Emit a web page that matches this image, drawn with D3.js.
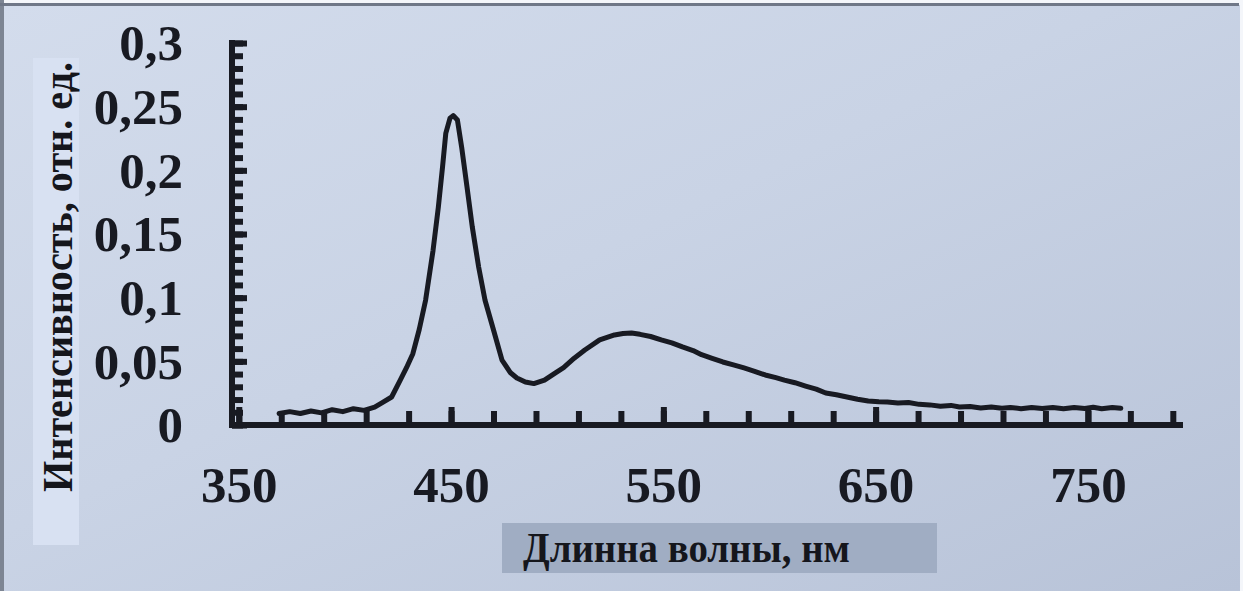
<!DOCTYPE html>
<html>
<head>
<meta charset="utf-8">
<script src="https://cdn.jsdelivr.net/npm/d3@7"></script>
<style>
body { margin: 0; padding: 0; background: #fff; }
#canvas { width: 1243px; height: 591px; overflow: hidden; }
.tick_label, .axis_title { font-family: "Liberation Serif", "Times New Roman", serif; font-weight: bold; fill: #15161c; }
</style>
</head>
<body>
<div id="canvas"></div>
<script>
// ----------------------------------------------------------
// DATA -----------------------------------------------------
// ----------------------------------------------------------

// wavelength, nm
var wavelength = [
369, 374, 379, 384, 389, 394, 399, 404, 409, 414,
418, 422, 426, 429, 432, 435, 438, 441.5, 444, 446,
447.5, 449.5, 451, 453, 455, 457.5, 460, 463, 466, 470,
474, 478, 481, 485, 489, 494, 499, 503, 508, 513,
520, 527, 531, 535, 539, 544, 549, 554, 559, 564,
568, 573, 578, 583, 588, 593, 598, 603, 607, 612,
617, 622, 626.5, 631.5, 636.5, 641.5, 646.5, 651.5, 655.5, 660.5,
665.5, 670.5, 675.5, 680.5, 685.5, 689.5, 694.5, 699.5, 704.5, 709.5,
713.5, 718.5, 723.5, 728.5, 733.5, 738.5, 743.5, 748.5, 752.5, 756.5,
761.5, 765.5
];

// intensity, rel. units
var intensity = [
0.009, 0.0105, 0.009, 0.011, 0.0095, 0.012, 0.0105, 0.0128, 0.0115, 0.014,
0.018, 0.022, 0.035, 0.045, 0.056, 0.075, 0.098, 0.137, 0.171, 0.203,
0.229, 0.241, 0.243, 0.2395, 0.218, 0.187, 0.1555, 0.124, 0.098, 0.0746,
0.051, 0.041, 0.0369, 0.0338, 0.0325, 0.0353, 0.0408, 0.045, 0.0525, 0.0589,
0.0668, 0.0707, 0.0718, 0.0723, 0.0712, 0.0695, 0.0668, 0.0645, 0.0613, 0.0585,
0.0552, 0.0524, 0.0495, 0.0472, 0.0448, 0.0422, 0.0393, 0.0372, 0.0353, 0.0332,
0.0306, 0.0282, 0.0251, 0.0238, 0.022, 0.0202, 0.0188, 0.0182, 0.018, 0.0172,
0.0176, 0.0162, 0.0158, 0.0148, 0.0154, 0.0142, 0.0146, 0.0134, 0.0142, 0.0132,
0.0138, 0.0128, 0.0138, 0.013, 0.0138, 0.0128, 0.0138, 0.013, 0.014, 0.0128,
0.0138, 0.0132
];

// axis ticks and labels
var x_major_ticks = [350, 450, 550, 650, 750];
var x_major_labels = ["350", "450", "550", "650", "750"];
var x_minor_ticks = [350, 370, 390, 410, 430, 450, 470, 490, 510, 530, 550, 570, 590,
610, 630, 650, 670, 690, 710, 730, 750, 770, 790];

var y_major_ticks = [0, 0.05, 0.1, 0.15, 0.2, 0.25, 0.3];
var y_major_labels = ["0", "0,05", "0,1", "0,15", "0,2", "0,25", "0,3"];
var y_minor_ticks = [0, 0.01, 0.02, 0.03, 0.04, 0.05, 0.06, 0.07, 0.08, 0.09,
0.1, 0.11, 0.12, 0.13, 0.14, 0.15, 0.16, 0.17, 0.18, 0.19,
0.2, 0.21, 0.22, 0.23, 0.24, 0.25, 0.26, 0.27, 0.28, 0.29, 0.3];

var x_title = "Длинна волны, нм";
var y_title = "Интенсивность, отн. ед.";


// ----------------------------------------------------------
// STRUCTURE ------------------------------------------------
// ----------------------------------------------------------

var W = 1243;
var H = 591;
var ink = "#181a22";

var container = d3.select("#canvas").append("svg")
.attr("width", W)
.attr("height", H);

// paper background
var defs = container.append("defs");
var grad = defs.append("linearGradient")
.attr("id", "paper")
.attr("x1", 0).attr("y1", 0).attr("x2", 1).attr("y2", 1);
grad.append("stop").attr("offset", "0%").attr("stop-color", "#d3dcec");
grad.append("stop").attr("offset", "45%").attr("stop-color", "#c9d3e5");
grad.append("stop").attr("offset", "100%").attr("stop-color", "#b8c3d8");

container.append("rect")
.attr("width", W).attr("height", H)
.style("fill", "#f4f6fa");
container.append("rect")
.attr("x", 3).attr("y", 5)
.attr("width", W - 6).attr("height", H - 5)
.style("fill", "url(#paper)");
// dark edges of the photo
container.append("rect")
.attr("x", 0).attr("y", 0).attr("width", 4).attr("height", H)
.style("fill", "#7d8593");
container.append("rect")
.attr("x", 0).attr("y", 3).attr("width", W - 4).attr("height", 3)
.style("fill", "#6f7787");

// title boxes
container.append("rect")
.attr("x", 33).attr("y", 58)
.attr("width", 46).attr("height", 487)
.style("fill", "#d8e1f2");
container.append("rect")
.attr("x", 502).attr("y", 523)
.attr("width", 435).attr("height", 50)
.style("fill", "#a0adc3");

var gfx_group = container.append("g").attr("class", "gfx_group");
var text_group = container.append("g").attr("class", "text_group");


// ----------------------------------------------------------
// SCALES ---------------------------------------------------
// ----------------------------------------------------------

var xScale = d3.scaleLinear()
.domain([346.8, 794.8])
.range([232, 1183]);

var yScale = d3.scaleLinear()
.domain([0, 0.3])
.range([425, 43]);


// ----------------------------------------------------------
// AXES -----------------------------------------------------
// ----------------------------------------------------------

// Y minor ticks
gfx_group.append("g")
.attr("class", "y_minor")
.attr("transform", "translate(232,0)")
.call(d3.axisLeft(yScale).tickValues(y_minor_ticks).tickSize(-11).tickSizeOuter(0).tickFormat(""))
.call(function (g) { g.select(".domain").remove(); });

// Y major ticks + labels
var y_axis = gfx_group.append("g")
.attr("class", "y_major")
.attr("transform", "translate(232,0)")
.call(d3.axisLeft(yScale).tickValues(y_major_ticks).tickSize(-15).tickSizeOuter(0).tickPadding(49)
.tickFormat(function (d, i) { return y_major_labels[i]; }));

y_axis.select(".domain").remove();
y_axis.selectAll(".tick text")
.attr("class", "tick_label")
.attr("dy", "0.33em")
.style("font-size", "51px");

// X minor ticks
gfx_group.append("g")
.attr("class", "x_minor")
.attr("transform", "translate(0,425)")
.call(d3.axisBottom(xScale).tickValues(x_minor_ticks).tickSize(-14).tickSizeOuter(0).tickFormat(""))
.call(function (g) { g.select(".domain").remove(); });

// X major ticks + labels
var x_axis = gfx_group.append("g")
.attr("class", "x_major")
.attr("transform", "translate(0,425)")
.call(d3.axisBottom(xScale).tickValues(x_major_ticks).tickSize(-18).tickSizeOuter(0).tickPadding(77)
.tickFormat(function (d, i) { return x_major_labels[i]; }));

x_axis.select(".domain").remove();
x_axis.selectAll(".tick text")
.attr("class", "tick_label")
.attr("dy", "0")
.style("font-size", "51px");

gfx_group.selectAll(".tick line")
.attr("stroke", ink)
.attr("stroke-width", 6)
.style("stroke", ink)
.style("stroke-width", "6px");
gfx_group.selectAll(".tick text")
.style("fill", ink);

// axis lines
gfx_group.append("line")
.attr("x1", 232).attr("x2", 232)
.attr("y1", yScale(0.3) - 3).attr("y2", yScale(0) + 3)
.style("stroke", ink).style("stroke-width", 6);
gfx_group.append("line")
.attr("x1", 229).attr("x2", 1183)
.attr("y1", yScale(0)).attr("y2", yScale(0))
.style("stroke", ink).style("stroke-width", 6);


// ----------------------------------------------------------
// CURVE ----------------------------------------------------
// ----------------------------------------------------------

var points = wavelength.map(function (w, i) { return [w, intensity[i]]; });

var line = d3.line()
.x(function (d) { return xScale(d[0]); })
.y(function (d) { return yScale(d[1]); })
.curve(d3.curveLinear);

gfx_group.append("path")
.attr("class", "spectrum")
.datum(points)
.attr("d", line)
.style("fill", "none")
.style("stroke", ink)
.style("stroke-width", 5)
.style("stroke-linejoin", "round")
.style("stroke-linecap", "round");


// ----------------------------------------------------------
// TEXT -----------------------------------------------------
// ----------------------------------------------------------

text_group.append("text")
.attr("class", "axis_title")
.attr("x", 523)
.attr("y", 562)
.attr("textLength", 327)
.attr("lengthAdjust", "spacingAndGlyphs")
.style("font-size", "42px")
.text(x_title);

text_group.append("text")
.attr("class", "axis_title")
.attr("transform", "translate(72,492) rotate(-90)")
.attr("textLength", 430)
.attr("lengthAdjust", "spacingAndGlyphs")
.style("font-size", "43px")
.text(y_title);
</script>
</body>
</html>
